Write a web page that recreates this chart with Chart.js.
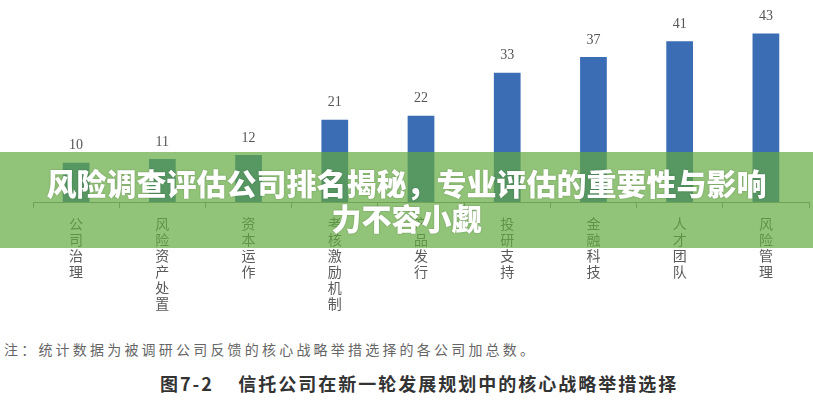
<!DOCTYPE html>
<html>
<head>
<meta charset="utf-8">
<script src="https://cdn.jsdelivr.net/npm/chart.js@4"></script>
<style>
  html, body { margin: 0; padding: 0; background: #ffffff; }
  #wrap { position: relative; width: 813px; height: 400px; overflow: hidden; background: #fff; }
  #chartBox { position: absolute; left: 0; top: 0; width: 813px; height: 320px; }
  #banner {
    position: absolute; left: 0; top: 152px; width: 813px; height: 96px;
    background: rgba(98, 170, 62, 0.70);
    display: flex; align-items: center; justify-content: center;
    text-align: center; color: #fff;
    font-family: "Noto Sans CJK SC", sans-serif; font-weight: 900;
    font-size: 30px; line-height: 35px;
    text-shadow: 0 0 2px rgba(0,0,0,0.25);
  }
  #note {
    position: absolute; left: 4px; top: 339px;
    font-family: "Noto Sans CJK SC", serif; font-size: 14px; letter-spacing: 3.2px;
    color: #666; line-height: 20px; white-space: nowrap;
  }
  #caption {
    position: absolute; left: 160px; top: 371px;
    font-family: "Noto Sans CJK SC", sans-serif; font-weight: 700; font-size: 18px;
    letter-spacing: 2px; color: #333; line-height: 24px; white-space: nowrap;
  }
</style>
</head>
<body>
<div id="wrap">
  <div id="chartBox"><canvas id="c"></canvas></div>
  <div id="banner"><div>风险调查评估公司排名揭秘，专业评估的重要性与影响<br>力不容小觑</div></div>
  <div id="note">注：统计数据为被调研公司反馈的核心战略举措选择的各公司加总数。</div>
  <div id="caption">图7-2&nbsp;&nbsp;&nbsp;&nbsp;信托公司在新一轮发展规划中的核心战略举措选择</div>
</div>
<script>
const categories = ['公司治理', '风险资产处置', '资本运作', '考核激励机制', '产品发行', '投研支持', '金融科技', '人才团队', '风险管理'];
const values = [10, 11, 12, 21, 22, 33, 37, 41, 43];

const valueLabels = {
  id: 'valueLabels',
  afterDatasetsDraw(chart) {
    const ctx = chart.ctx;
    const meta = chart.getDatasetMeta(0);
    ctx.save();
    ctx.font = '14px "Liberation Serif", "DejaVu Serif", serif';
    ctx.fillStyle = '#555';
    ctx.textAlign = 'center';
    ctx.textBaseline = 'middle';
    meta.data.forEach((bar, i) => {
      ctx.fillText(String(values[i]), bar.x, bar.y - 17);
    });
    ctx.restore();
  }
};

new Chart(document.getElementById('c'), {
  type: 'bar',
  data: {
    labels: categories.map(s => s.split('')),
    datasets: [{
      data: values,
      backgroundColor: '#3b6db5',
      borderWidth: 0,
      categoryPercentage: 1.0,
      barPercentage: 0.31
    }]
  },
  options: {
    responsive: true,
    maintainAspectRatio: false,
    animation: false,
    layout: { padding: { left: 33, right: 4, top: 6, bottom: 0 } },
    plugins: { legend: { display: false }, tooltip: { enabled: false }, title: { display: false } },
    scales: {
      x: {
        offset: true,
        afterFit(scale) { scale.height = 118; },
        border: { display: true, color: '#8c8c8c', width: 1 },
        grid: { display: true, offset: true, drawOnChartArea: false, drawTicks: true, tickLength: 6, color: '#8c8c8c' },
        ticks: {
          color: '#5a5a5a',
          padding: 8,
          maxRotation: 0,
          autoSkip: false,
          font: { family: '"Noto Sans CJK SC", serif', size: 14, lineHeight: 1.14 }
        }
      },
      y: {
        display: false,
        min: 0,
        max: 50
      }
    }
  },
  plugins: [valueLabels]
});
</script>
</body>
</html>
